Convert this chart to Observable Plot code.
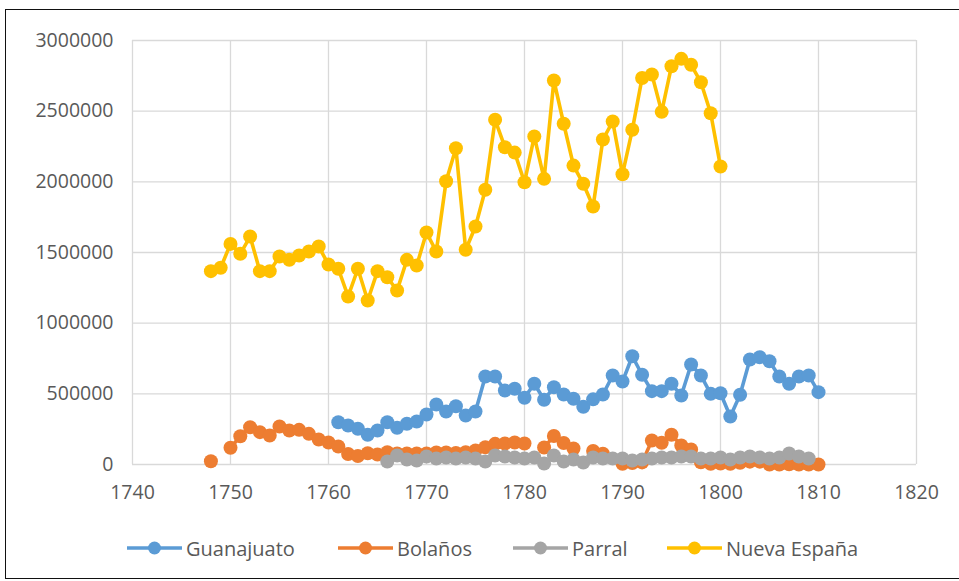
<!DOCTYPE html>
<html>
<head>
<meta charset="utf-8">
<script src="https://cdn.jsdelivr.net/npm/d3@7"></script>
<script src="https://cdn.jsdelivr.net/npm/@observablehq/plot@0.6"></script>
<style>
  body { margin: 0; background: #fff; font-family: "Open Sans", sans-serif; }
  #wrap { position: relative; width: 959px; height: 581px; overflow: hidden; background: #fff; }
  #chart { position: absolute; left: 0; top: 0; }
  #frame { position: absolute; left: 5px; top: 9px; width: 970px; height: 570px; border: 1.5px solid #111; box-sizing: border-box; pointer-events: none; }
  #legend { position: absolute; left: 0; top: 533px; width: 959px; height: 30px; color: #595959; font-size: 20px; }
  .item { position: absolute; top: 0; height: 30px; display: flex; align-items: center; gap: 4px; white-space: nowrap; }
</style>
</head>
<body>
<div id="wrap">
  <div id="chart"></div>
  <div id="legend"></div>
  <div id="frame"></div>
</div>
<script>
const years = [1748,1749,1750,1751,1752,1753,1754,1755,1756,1757,
  1758,1759,1760,1761,1762,1763,1764,1765,1766,1767,
  1768,1769,1770,1771,1772,1773,1774,1775,1776,1777,
  1778,1779,1780,1781,1782,1783,1784,1785,1786,1787,
  1788,1789,1790,1791,1792,1793,1794,1795,1796,1797,
  1798,1799,1800,1801,1802,1803,1804,1805,1806,1807,
  1808,1809,1810];

const guanajuato = [null,null,null,null,null,null,null,null,null,null,
  null,null,null,299000,276000,253000,210000,241000,299000,260000,
  288000,304000,354000,424000,375000,412000,347000,375000,623000,623000,
  524000,536000,472000,571000,458000,547000,495000,465000,409000,461000,
  495000,630000,587000,766000,635000,519000,519000,571000,488000,708000,
  630000,500000,504000,340000,493000,743000,759000,731000,623000,571000,
  623000,630000,512000];

const bolanos = [23000,null,118000,200000,264000,229000,205000,269000,241000,245000,
  217000,177000,156000,127000,74000,60000,80000,71000,87000,78000,
  78000,78000,78000,85000,85000,81000,87000,99000,122000,146000,
  149000,156000,149000,null,120000,202000,152000,113000,null,96000,
  76000,null,5000,10000,15000,170000,154000,210000,134000,106000,
  16000,5000,7000,5000,12000,20000,20000,0,0,2000,
  0,0,0];

const parral = [null,null,null,null,null,null,null,null,null,null,
  null,null,null,null,null,null,null,null,21000,64000,
  35000,28000,57000,42000,50000,42000,50000,42000,21000,64000,
  57000,50000,42000,50000,7000,64000,21000,35000,14000,50000,
  42000,42000,42000,28000,35000,42000,50000,50000,57000,57000,
  42000,42000,50000,35000,50000,57000,50000,42000,50000,78000,
  57000,42000,null];

const nuevaEspana = [1368000,1392000,1561000,1491000,1613000,1368000,1368000,1472000,1448000,1479000,
  1507000,1542000,1415000,1385000,1189000,1385000,1160000,1368000,1325000,1231000,
  1448000,1408000,1641000,1507000,2004000,2238000,1519000,1684000,1944000,2439000,
  2245000,2207000,1997000,2321000,2021000,2717000,2411000,2115000,1986000,1825000,
  2299000,2427000,2054000,2368000,2735000,2759000,2495000,2818000,2870000,2828000,
  2705000,2485000,2108000,null,null,null,null,null,null,null,
  null,null,null];

const seriesNames = ["Guanajuato", "Bolaños", "Parral", "Nueva España"];
const seriesValues = [guanajuato, bolanos, parral, nuevaEspana];
const seriesColors = ["#5B9BD5", "#ED7D31", "#A5A5A5", "#FFC000"];

const xTicks = [1740,1750,1760,1770,1780,1790,1800,1810,1820];
const yTicks = [0,500000,1000000,1500000,2000000,2500000,3000000];

const seriesMarks = [];
seriesNames.forEach((name, s) => {
  const data = years.map((yr, i) => ({year: yr, value: seriesValues[s][i], series: name}));
  seriesMarks.push(Plot.line(data, {x: "year", y: "value", stroke: seriesColors[s], strokeWidth: 3.6}));
  seriesMarks.push(Plot.dot(data.filter(d => d.value != null), {x: "year", y: "value", fill: seriesColors[s], r: 7}));
});

const chart = Plot.plot({
  width: 959,
  height: 520,
  marginLeft: 132,
  marginRight: 43,
  marginTop: 40,
  marginBottom: 56,
  style: {fontFamily: '"Open Sans", sans-serif', fontSize: "19.5px", color: "#595959", background: "transparent", overflow: "visible"},
  x: {domain: [1740, 1820], ticks: xTicks, tickFormat: d => String(d), tickSize: 0, tickPadding: 21, label: null},
  y: {domain: [0, 3000000], ticks: yTicks, tickFormat: d => String(d), tickSize: 0, tickPadding: 19, label: null},
  marks: [
    Plot.gridX(xTicks, {stroke: "#d9d9d9", strokeOpacity: 1, strokeWidth: 1.3}),
    Plot.gridY(yTicks, {stroke: "#d9d9d9", strokeOpacity: 1, strokeWidth: 1.3}),
    ...seriesMarks
  ]
});
document.getElementById("chart").appendChild(chart);

const legendLefts = [127, 338, 513, 667];
const legend = document.getElementById("legend");
seriesNames.forEach((name, s) => {
  const item = document.createElement("div");
  item.className = "item";
  item.style.left = legendLefts[s] + "px";
  item.innerHTML = `<svg width="55" height="16"><line x1="0" y1="8" x2="55" y2="8" stroke="${seriesColors[s]}" stroke-width="3.6"/><circle cx="27.5" cy="8" r="6.5" fill="${seriesColors[s]}"/></svg><span>${name}</span>`;
  legend.appendChild(item);
});
</script>
</body>
</html>
